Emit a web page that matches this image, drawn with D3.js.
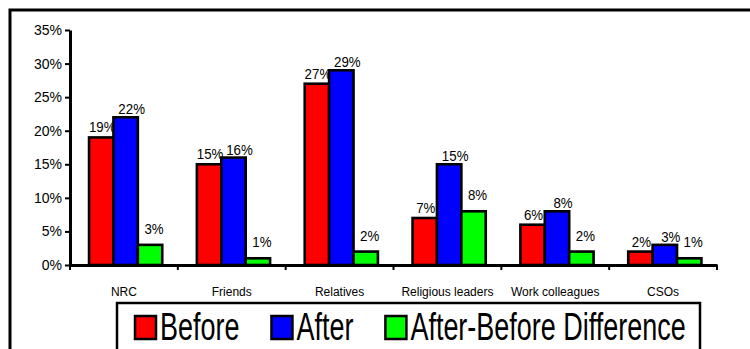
<!DOCTYPE html>
<html>
<head>
<meta charset="utf-8">
<script src="https://cdn.jsdelivr.net/npm/d3@7"></script>
<style>
  body { margin: 0; background: #fff; }
  svg { display: block; }
  text { font-family: "Liberation Sans", Arial, sans-serif; fill: #000; }
</style>
</head>
<body>
<svg id="chart" width="750" height="349"></svg>
<script>
// Data
const categories = ["NRC", "Friends", "Relatives", "Religious leaders", "Work colleagues", "CSOs"];
const seriesNames = ["Before", "After", "After-Before Difference"];
const before = [19, 15, 27, 7, 6, 2];
const after = [22, 16, 29, 15, 8, 3];
const difference = [3, 1, 2, 8, 2, 1];
const yTicks = [0, 5, 10, 15, 20, 25, 30, 35];
const colors = ["#ff0000", "#0000ff", "#00ff00"];

const seriesValues = [before, after, difference];

const svg = d3.select("#chart");

// Outer frame (runs off the right and bottom edges)
svg.append("rect")
  .attr("x", 10).attr("y", 10)
  .attr("width", 800).attr("height", 400)
  .attr("fill", "#fff").attr("stroke", "#000").attr("stroke-width", 3);

// Scales
const x = d3.scaleBand().domain(categories).range([70, 717]).padding(0);
const xs = d3.scaleBand().domain(seriesNames).range([0, x.bandwidth()])
  .paddingInner(0).paddingOuter(0.71).align(0.55);
const y = d3.scaleLinear().domain([0, 35]).range([265, 30]);

// Bars
const groups = svg.append("g").selectAll("g")
  .data(seriesNames)
  .join("g")
  .attr("fill", (d, i) => colors[i]);

groups.selectAll("rect")
  .data((s, si) => categories.map((c, ci) => ({ c, s, v: seriesValues[si][ci] })))
  .join("rect")
  .attr("x", d => x(d.c) + xs(d.s))
  .attr("y", d => y(d.v))
  .attr("width", xs.bandwidth())
  .attr("height", d => y(0) - y(d.v))
  .attr("stroke", "#000")
  .attr("stroke-width", 2.6);

// Value labels (per-series nudges, as in the original layout)
const labelNudge = [{ dx: 1, dy: -5 }, { dx: 6, dy: -3 }, { dx: 4, dy: -11 }];
groups.each(function (s, si) {
  d3.select(this).selectAll("text")
    .data(categories.map((c, ci) => ({ c, s, v: seriesValues[si][ci] })))
    .join("text")
    .attr("text-anchor", "middle")
    .attr("font-size", 14)
    .attr("transform", d => `translate(${x(d.c) + xs(d.s) + xs.bandwidth() / 2 + labelNudge[si].dx},${y(d.v) + labelNudge[si].dy}) scale(0.95,1)`)
    .attr("fill", "#000")
    .text(d => d.v + "%");
});

// Y axis
const yAxis = svg.append("g")
  .attr("transform", "translate(70,0)")
  .call(d3.axisLeft(y).tickValues(yTicks).tickFormat(d => d + "%").tickSize(5).tickSizeOuter(0).tickPadding(3));
yAxis.select(".domain").attr("stroke", "#000").attr("stroke-width", 3);
yAxis.selectAll(".tick line").attr("stroke", "#000").attr("stroke-width", 2);
yAxis.selectAll(".tick text")
  .attr("font-size", 14)
  .attr("font-family", "Liberation Sans, Arial, sans-serif")
  .attr("fill", "#000");

// X axis with ticks at category boundaries
const xAxis = svg.append("g")
  .attr("transform", `translate(0,${y(0)})`)
  .call(d3.axisBottom(x).tickSize(0).tickSizeOuter(0).tickPadding(22));
xAxis.select(".domain").attr("stroke", "#000").attr("stroke-width", 3);
xAxis.selectAll(".tick text")
  .attr("font-size", 12)
  .attr("font-family", "Liberation Sans, Arial, sans-serif")
  .attr("fill", "#000");

const boundaries = categories.map(c => x(c)).concat([x.range()[1]]);
xAxis.selectAll("line.boundary")
  .data(boundaries)
  .join("line")
  .attr("class", "boundary")
  .attr("x1", d => d).attr("x2", d => d)
  .attr("y1", 0).attr("y2", 5)
  .attr("stroke", "#000").attr("stroke-width", 2);

// Legend
const legend = svg.append("g");
legend.append("rect")
  .attr("x", 117).attr("y", 303)
  .attr("width", 583).attr("height", 80)
  .attr("fill", "#fff").attr("stroke", "#000").attr("stroke-width", 2.5);

let lx = 135;
const textScale = 0.71;
seriesNames.forEach((name, i) => {
  legend.append("rect")
    .attr("x", lx).attr("y", 316)
    .attr("width", 21).attr("height", 23)
    .attr("fill", colors[i]).attr("stroke", "#000").attr("stroke-width", 2.5);
  const t = legend.append("text")
    .attr("font-size", 38)
    .attr("transform", `translate(${lx + 25},340) scale(${textScale},1)`)
    .text(name);
  const w = t.node().getComputedTextLength() * textScale;
  lx += 25 + w + 32;
});
</script>
</body>
</html>
